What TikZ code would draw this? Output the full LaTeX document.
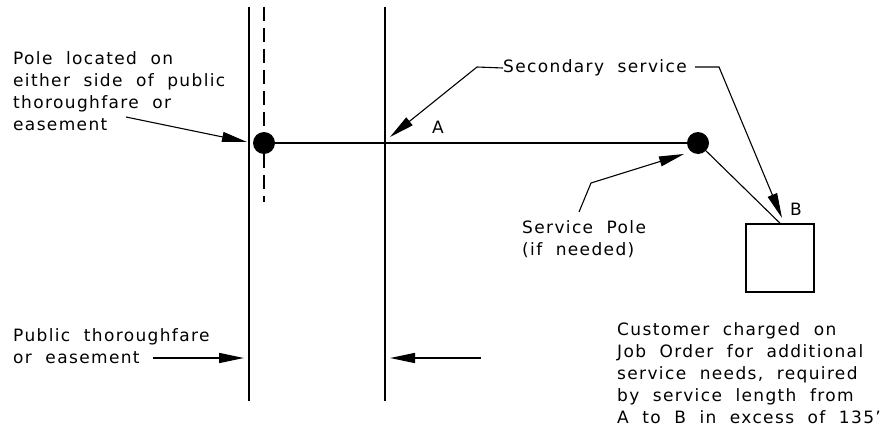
\documentclass[tikz,border=0pt]{standalone}
\usepackage{fontspec}
\setmainfont[WordSpace=2,LetterSpace=8]{DejaVu Sans}
\usetikzlibrary{arrows.meta}
\tikzset{
    note/.style={anchor=west,align=left,inner sep=0pt,font=\fontsize{17}{22}\selectfont},
    street/.style={line width=1.6pt},
    wire/.style={line width=1.6pt},
    pole/.style={circle,fill=black,minimum size=22pt,inner sep=0pt},
    leader/.style={line width=1.1pt},
    pointer/.style={line width=1.1pt,-{Stealth[length=25pt,width=10pt,inset=0pt]}}
}
\begin{document}
\begin{tikzpicture}[x=1pt,y=-1pt]
    \useasboundingbox (0,0) rectangle (894,428);
    \coordinate (streetLtop) at (249,7);
    \coordinate (streetLbot) at (249,401);
    \coordinate (streetRtop) at (385,7);
    \coordinate (streetRbot) at (385,401);
    \coordinate (dashTop) at (264,7);
    \coordinate (dashBot) at (264,202);
    \draw[street] (streetLtop) -- (streetLbot);
    \draw[street] (streetRtop) -- (streetRbot);
    \draw[street,dash pattern=on 14pt off 7pt] (dashTop) -- (dashBot);

    \node[pole] (poleA) at (264,143) {};
    \node[pole] (poleB) at (698,143) {};
    \node[draw,line width=1.6pt,minimum size=68pt,inner sep=0pt] (house) at (780,258) {};
    \draw[wire] (poleA) -- (poleB);
    \draw[leader] (poleB) -- (house.north);

    \node[note] (labelA) at (432,127) {A};
    \node[note] (labelB) at (790,209) {B};

    \node[note] (poleNote) at (13,91) {Pole located on\\either side of public\\thoroughfare or\\easement};
    \node[note] (secondary) at (503,68) {Secondary service};
    \node[note] (servicePole) at (522,239) {Service Pole\\(if needed)};
    \node[note] (publicNote) at (13,346) {Public thoroughfare\\or easement};
    \node[note] (customer) at (617,373.5) {Customer charged on\\Job Order for additional\\service needs, required\\by service length from\\A to B in excess of 135'};

    \coordinate (poleFrom) at (126,117);
    \coordinate (poleTip) at (247,142);
    \coordinate (secBendL) at (477,67);
    \coordinate (secTipA) at (390,137);
    \coordinate (secBendR) at (719,67);
    \coordinate (secFromR) at (695,67);
    \coordinate (secTipB) at (782,218);
    \coordinate (serviceFrom) at (579,212);
    \coordinate (serviceBend) at (591,183);
    \coordinate (serviceTip) at (684,154);
    \coordinate (publicFrom) at (153,358);
    \coordinate (publicTip) at (244,358);
    \coordinate (rightFrom) at (481,358);
    \coordinate (rightTip) at (390,358);

    \draw[pointer] (poleFrom) -- (poleTip);
    \draw[pointer] (secondary.west) -- (secBendL) -- (secTipA);
    \draw[pointer] (secFromR) -- (secBendR) -- (secTipB);
    \draw[pointer] (serviceFrom) -- (serviceBend) -- (serviceTip);
    \draw[pointer,line width=1.6pt] (publicFrom) -- (publicTip);
    \draw[pointer,line width=1.6pt] (rightFrom) -- (rightTip);
\end{tikzpicture}
\end{document}
